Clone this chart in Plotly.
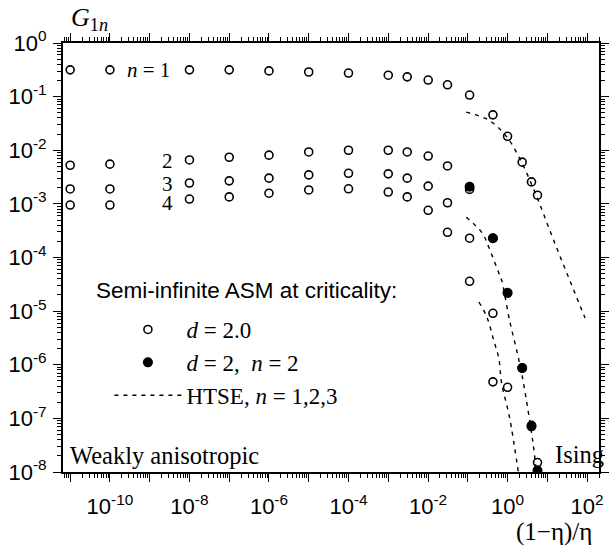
import numpy as np
import plotly.graph_objects as go

# ---- data ----
# x positions: (1-eta)/eta
x_left = [1e-11, 1e-10, 1e-8, 1e-7, 1e-6, 1e-5, 1e-4, 1e-3, 3e-3, 0.0101, 0.0309, 0.111]
x_right = [0.4286, 1.0, 2.333, 4.0, 5.667]

g1_n1 = [0.316, 0.316, 0.316, 0.316, 0.302, 0.288, 0.275, 0.251, 0.234, 0.204, 0.166, 0.107,
         0.0457, 0.0182, 0.0060, 0.00257, 0.00145]
g1_n2 = [0.00525, 0.0055, 0.0066, 0.0074, 0.0081, 0.0093, 0.0100, 0.0100, 0.0093, 0.0078, 0.0051, 0.00186,
         0.000229, 2.19e-5, 8.7e-7, 7.4e-8, 1.5e-8]
g1_n3 = [0.00190, 0.00190, 0.00245, 0.00269, 0.00302, 0.00347, 0.00372, 0.00363, 0.00302, 0.00214, 0.00105, 0.000229,
         9.1e-6, 3.8e-7]
g1_n4 = [0.00095, 0.00095, 0.00123, 0.00135, 0.00158, 0.00182, 0.00191, 0.00166, 0.00135, 0.00076, 0.000295, 3.6e-5,
         4.8e-7]

x_exact = [0.111, 0.4286, 1.0, 2.333, 4.0, 5.667]
g1_exact = [0.00209, 0.000229, 2.19e-5, 8.7e-7, 7.1e-8, 1.07e-8]

# HTSE curves (log10 coordinates)
htse1_lx = [-1.04, -0.47, -0.02, 0.35, 0.72, 1.16, 1.95]
htse1_ly = [-1.29, -1.44, -1.75, -2.22, -2.84, -3.68, -5.13]
htse2_lx = [-1.04, -0.64, -0.47, -0.22, -0.15, 0.05, 0.27, 0.40, 0.64, 0.74]
htse2_ly = [-3.25, -3.54, -3.81, -4.29, -4.42, -5.17, -5.86, -6.34, -7.46, -8.1]
htse3_lx = [-0.72, -0.52, -0.35, -0.22, -0.15, 0.05, 0.29]
htse3_ly = [-4.83, -5.11, -5.54, -5.88, -6.34, -6.98, -8.1]

x_major = [10.0**k for k in range(-11, 3)]
x_labels = ["" if k % 2 else "10<sup>%d</sup>" % k for k in range(-11, 3)]
y_major = [10.0**k for k in range(-8, 1)]
y_labels = ["10<sup>%d</sup>" % k for k in range(-8, 1)]

serif = "Liberation Serif"
sans = "Liberation Sans"

fig = go.Figure()

open_marker = dict(symbol="circle-open", size=8, color="black", line=dict(width=1.6, color="black"))
for i, (ys) in enumerate([g1_n1, g1_n2, g1_n3, g1_n4]):
    xs = (x_left + x_right)[:len(ys)]
    fig.add_trace(go.Scatter(x=xs, y=ys, mode="markers", marker=open_marker,
                             name="<i>d</i> = 2.0", showlegend=(i == 0),
                             legendgroup="a", legendrank=1))

fig.add_trace(go.Scatter(x=x_exact, y=g1_exact, mode="markers",
                         marker=dict(symbol="circle", size=10, color="black"),
                         name="<i>d</i> = 2,  <i>n</i> = 2", legendgroup="b", legendrank=2))

for i, (lx, ly) in enumerate([(htse1_lx, htse1_ly), (htse2_lx, htse2_ly), (htse3_lx, htse3_ly)]):
    fig.add_trace(go.Scatter(x=[10**v for v in lx], y=[10**v for v in ly], mode="lines",
                             line=dict(color="black", width=1.4, dash="4px,5px", shape="spline"),
                             name="HTSE, <i>n</i> = 1,2,3", showlegend=(i == 0),
                             legendgroup="c", legendrank=3))

minor_x = [m * 10.0**k for k in range(-12, 3) for m in range(2, 10)]
minor_y = [m * 10.0**k for k in range(-9, 1) for m in range(2, 10)]

axis_common = dict(type="log", showgrid=False, zeroline=False, showline=True, linecolor="black",
                   linewidth=2, ticks="outside", ticklen=8, tickwidth=1.2, tickcolor="black",
                   mirror="ticks", tickfont=dict(family=sans, size=22, color="black"))

fig.update_xaxes(**axis_common, range=[-11.18, 2.3], tickmode="array", tickvals=x_major, ticktext=x_labels,
                 ticklabelstandoff=6,
                 minor=dict(tickmode="array", tickvals=minor_x, ticks="outside", ticklen=4,
                            tickwidth=1, tickcolor="black", showgrid=False))
fig.update_yaxes(**axis_common, range=[-8, 0], tickmode="array", tickvals=y_major, ticktext=y_labels,
                 ticklabelstandoff=2,
                 minor=dict(tickmode="array", tickvals=minor_y, ticks="outside", ticklen=4,
                            tickwidth=1, tickcolor="black", showgrid=False))

ann = [
    dict(text="<i>G</i><sub>1<i>n</i></sub>", x=0.012, y=(472 - 19) / 429, xanchor="left", yanchor="middle",
         font=dict(family=serif, size=26)),
    dict(text="<i>n</i> = 1", x=(150 - 63) / 546, y=(472 - 70) / 429, xanchor="center", yanchor="middle",
         font=dict(family=serif, size=21)),
    dict(text="2", x=(169 - 63) / 546, y=(472 - 161) / 429, xanchor="center", yanchor="middle",
         font=dict(family=serif, size=21)),
    dict(text="3", x=(169 - 63) / 546, y=(472 - 184) / 429, xanchor="center", yanchor="middle",
         font=dict(family=serif, size=21)),
    dict(text="4", x=(169 - 63) / 546, y=(472 - 203) / 429, xanchor="center", yanchor="middle",
         font=dict(family=serif, size=21)),
    dict(text="Weakly anisotropic", x=0.01, y=(472 - 455) / 429, xanchor="left", yanchor="middle",
         font=dict(family=serif, size=24.5)),
    dict(text="Ising", x=(616 - 63) / 546, y=(472 - 454) / 429, xanchor="right", yanchor="middle",
         font=dict(family=serif, size=24.5)),
    dict(text="(1\u2212\u03b7)/\u03b7", x=(604 - 63) / 546, y=(472 - 532) / 429, xanchor="right",
         yanchor="middle", font=dict(family=serif, size=25)),
    dict(text="Semi-infinite ASM at criticality:", x=(95 - 63) / 546, y=(472 - 290) / 429,
         xanchor="left", yanchor="middle", font=dict(family=sans, size=22.5)),
]
for a in ann:
    a.update(xref="paper", yref="paper", showarrow=False)
fig.update_layout(annotations=ann)

fig.update_layout(
    width=616, height=546,
    margin=dict(l=63, r=7, t=43, b=74),
    paper_bgcolor="white", plot_bgcolor="white",
    font=dict(family=serif, color="black"),
    legend=dict(x=(95 - 63) / 546, y=(472 - 308) / 429, xanchor="left", yanchor="top",
                bgcolor="rgba(0,0,0,0)", indentation=15, tracegroupgap=0,
                font=dict(family=serif, size=23), itemwidth=67),
)

fig.write_html("out.html")
